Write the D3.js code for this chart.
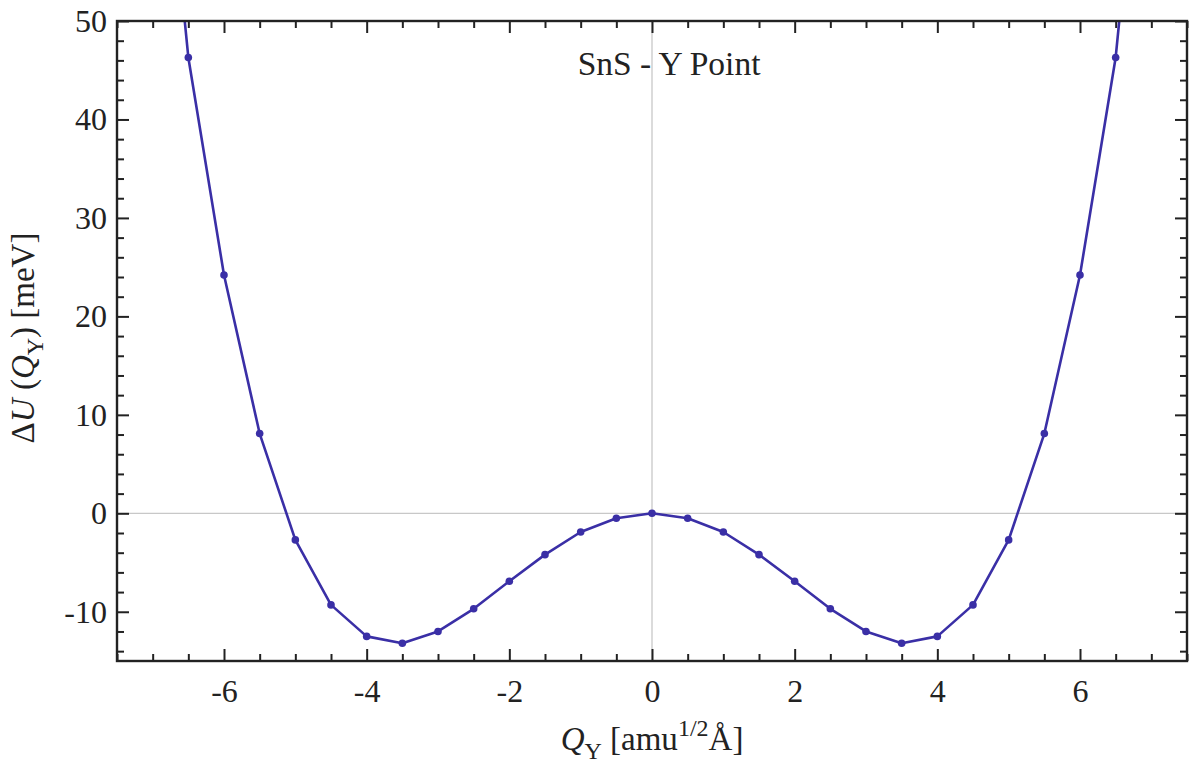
<!DOCTYPE html>
<html>
<head>
<meta charset="utf-8">
<script src="https://cdn.jsdelivr.net/npm/d3@7"></script>
<style>
  html, body { margin: 0; padding: 0; background: #fff; }
  svg { display: block; }
  text { font-family: "Liberation Serif", "DejaVu Serif", serif; fill: #222; }
</style>
</head>
<body>
<svg id="chart" width="1192" height="769"></svg>
<script>
// Normal-mode coordinate (amu^1/2 Å) and frozen-phonon energy change (meV)
const qY = [-7, -6.5, -6, -5.5, -5, -4.5, -4, -3.5, -3, -2.5, -2, -1.5, -1, -0.5, 0,
            0.5, 1, 1.5, 2, 2.5, 3, 3.5, 4, 4.5, 5, 5.5, 6, 6.5, 7];
const deltaU = [83, 46.3, 24.2, 8.1, -2.7, -9.3, -12.5, -13.2, -12.0, -9.7, -6.9, -4.2, -1.9, -0.5, 0,
                -0.5, -1.9, -4.2, -6.9, -9.7, -12.0, -13.2, -12.5, -9.3, -2.7, 8.1, 24.2, 46.3, 83];

const xMajorTicks = [-6, -4, -2, 0, 2, 4, 6];
const xMinorTicks = d3.range(-7.5, 7.51, 0.5);
const yMajorTicks = [-10, 0, 10, 20, 30, 40, 50];
const yMinorTicks = d3.range(-14, 50.1, 2);

const margin = { left: 117, right: 5, top: 21, bottom: 108 };
const width = 1192, height = 769;
const innerW = width - margin.left - margin.right;
const innerH = height - margin.top - margin.bottom;

const svg = d3.select("#chart");
const g = svg.append("g").attr("transform", `translate(${margin.left},${margin.top})`);

const x = d3.scaleLinear().domain([-7.5, 7.5]).range([0, innerW]);
const y = d3.scaleLinear().domain([-15, 50]).range([innerH, 0]);

g.append("clipPath").attr("id", "plot-clip")
  .append("rect").attr("width", innerW).attr("height", innerH);

// zero reference lines
g.append("line")
  .attr("x1", x(0)).attr("x2", x(0)).attr("y1", 0).attr("y2", innerH)
  .attr("stroke", "#c8c8c8").attr("stroke-width", 1.3);
g.append("line")
  .attr("x1", 0).attr("x2", innerW).attr("y1", y(0)).attr("y2", y(0))
  .attr("stroke", "#c8c8c8").attr("stroke-width", 1.3);

// inward ticks on all four sides
function tickAxis(axisFn, scale, values, size, transform) {
  const ax = g.append("g").attr("transform", transform)
    .call(axisFn(scale).tickValues(values).tickSize(-size).tickFormat(""));
  ax.select(".domain").remove();
  ax.selectAll(".tick line").attr("stroke", "#222").attr("stroke-width", 2);
  return ax;
}
const majorLen = 12, minorLen = 7;
const xMinorOnly = xMinorTicks.filter(v => !xMajorTicks.includes(v));
const yMinorOnly = yMinorTicks.filter(v => !yMajorTicks.includes(v));

tickAxis(d3.axisBottom, x, xMajorTicks, majorLen, `translate(0,${innerH})`);
tickAxis(d3.axisBottom, x, xMinorOnly, minorLen, `translate(0,${innerH})`);
tickAxis(d3.axisTop, x, xMajorTicks, majorLen, `translate(0,0)`);
tickAxis(d3.axisTop, x, xMinorOnly, minorLen, `translate(0,0)`);
tickAxis(d3.axisLeft, y, yMajorTicks, majorLen, `translate(0,0)`);
tickAxis(d3.axisLeft, y, yMinorOnly, minorLen, `translate(0,0)`);
tickAxis(d3.axisRight, y, yMajorTicks, majorLen, `translate(${innerW},0)`);
tickAxis(d3.axisRight, y, yMinorOnly, minorLen, `translate(${innerW},0)`);

// tick labels
const fmt = v => String(v).replace("\u2212", "-");
const xLab = g.append("g").attr("transform", `translate(0,${innerH})`)
  .call(d3.axisBottom(x).tickValues(xMajorTicks).tickSize(0).tickPadding(18).tickFormat(fmt));
xLab.select(".domain").remove();
xLab.selectAll("text").attr("font-size", 32).attr("font-family", "Liberation Serif").attr("fill", "#222");

const yLab = g.append("g")
  .call(d3.axisLeft(y).tickValues(yMajorTicks).tickSize(0).tickPadding(10).tickFormat(fmt));
yLab.select(".domain").remove();
yLab.selectAll("text").attr("font-size", 32).attr("font-family", "Liberation Serif").attr("fill", "#222");

// curve and markers
const pts = qY.map((q, i) => ({ q, u: deltaU[i] }));
const plot = g.append("g").attr("clip-path", "url(#plot-clip)");
plot.append("path")
  .datum(pts)
  .attr("fill", "none")
  .attr("stroke", "#3a2fa6")
  .attr("stroke-width", 2.6)
  .attr("stroke-linejoin", "round")
  .attr("d", d3.line().x(d => x(d.q)).y(d => y(d.u)));
plot.selectAll("circle")
  .data(pts.filter(d => d.u <= 50))
  .join("circle")
  .attr("cx", d => x(d.q)).attr("cy", d => y(d.u))
  .attr("r", 3.8)
  .attr("fill", "#3a2fa6");

// frame
g.append("rect")
  .attr("width", innerW).attr("height", innerH)
  .attr("fill", "none").attr("stroke", "#222").attr("stroke-width", 2.4);

// title inside the plot
g.append("text")
  .attr("x", x(0.24)).attr("y", 54)
  .attr("text-anchor", "middle")
  .attr("font-size", 33.5)
  .text("SnS - Y Point");

// x axis title
const xt = svg.append("text")
  .attr("x", margin.left + x(0)).attr("y", 750)
  .attr("text-anchor", "middle")
  .attr("font-size", 33);
xt.append("tspan").attr("font-style", "italic").text("Q");
xt.append("tspan").attr("font-size", 24).attr("dy", 9).text("Y");
xt.append("tspan").attr("dy", -9).text(" [amu");
xt.append("tspan").attr("font-size", 24).attr("dy", -14).text("1/2");
xt.append("tspan").attr("dy", 14).text("Å]");

// y axis title
const yt = svg.append("text")
  .attr("transform", `translate(34,338) rotate(-90)`)
  .attr("text-anchor", "middle")
  .attr("font-size", 33);
yt.append("tspan").text("Δ");
yt.append("tspan").attr("font-style", "italic").text("U");
yt.append("tspan").text(" (");
yt.append("tspan").attr("font-style", "italic").text("Q");
yt.append("tspan").attr("font-size", 24).attr("dy", 9).text("Y");
yt.append("tspan").attr("dy", -9).text(") [meV]");
</script>
</body>
</html>
